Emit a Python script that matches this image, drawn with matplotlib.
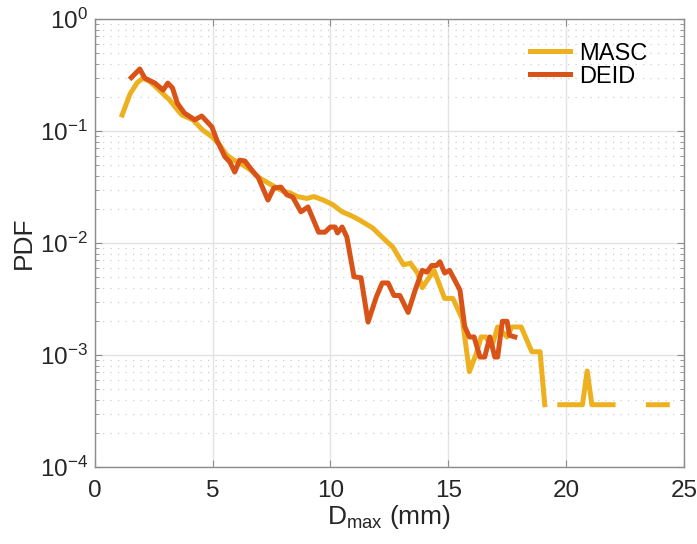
import numpy as np
import matplotlib
matplotlib.use("Agg")
import matplotlib.pyplot as plt
from matplotlib.ticker import LogLocator, NullFormatter

plt.rcParams['font.family'] = ['Liberation Sans', 'DejaVu Sans']
plt.rcParams['mathtext.fontset'] = 'custom'
plt.rcParams['mathtext.rm'] = 'Liberation Sans'
plt.rcParams['mathtext.it'] = 'Liberation Sans:italic'
plt.rcParams['mathtext.default'] = 'regular'

# MASC size distribution (nan = empty bin)
masc_x = [1.16, 1.5, 1.8, 2.04, 2.3, 2.6, 2.9, 3.18, 3.45, 3.7, 4.16, 4.58, 5.0, 5.3,
          5.6, 5.9, 6.28, 6.6, 7.0, 7.4, 7.73, 8.0, 8.28, 8.6, 9.0, 9.3, 9.7, 10.1,
          10.5, 10.9, 11.25, 11.8, 12.1, 12.65, 13.1, 13.4, 13.7, 13.9, 14.4, 14.85,
          15.2, 15.6, 15.9, 16.2, 16.4, 16.6, 16.85, 17.1, 17.5, 17.7, 18.1, 18.55,
          18.9, 19.1, 19.4, 19.74, 20.1, 20.5, 20.7, 20.9, 21.1, 21.5, 22.0, 22.7,
          23.5, 23.9, 24.3]
masc_y = [0.139, 0.215, 0.27, 0.297, 0.28, 0.247, 0.215, 0.189, 0.16, 0.139, 0.126, 0.102,
          0.088, 0.075, 0.061, 0.055, 0.050, 0.045, 0.038, 0.034, 0.031, 0.029, 0.028,
          0.026, 0.025, 0.026, 0.0242, 0.022, 0.019, 0.0175, 0.016, 0.0136, 0.0118,
          0.0092, 0.0064, 0.0066, 0.0054, 0.0040, 0.0057, 0.0032, 0.0032, 0.0021,
          0.00071, 0.00104, 0.00145, 0.00145, 0.00118, 0.00178, 0.00145, 0.00178,
          0.00178, 0.00107, 0.00107, 0.00036, np.nan, 0.00036, 0.00036, 0.00036,
          0.00036, 0.00072, 0.00036, 0.00036, 0.00036, np.nan, 0.00036, 0.00036, 0.00036]

# DEID size distribution
deid_x = [1.55, 1.91, 2.12, 2.55, 2.9, 3.1, 3.3, 3.5, 3.8, 4.24, 4.54, 4.97, 5.18, 5.52,
          5.73, 5.94, 6.15, 6.37, 6.66, 6.95, 7.35, 7.6, 7.9, 8.15, 8.4, 8.75, 9.05,
          9.5, 9.77, 10.0, 10.2, 10.3, 10.5, 10.7, 11.0, 11.3, 11.6, 11.95, 12.2, 12.45,
          12.7, 12.95, 13.3, 13.6, 13.9, 14.1, 14.3, 14.5, 14.65, 14.85, 15.06, 15.5,
          15.7, 15.9, 16.1, 16.35, 16.55, 16.77, 16.98, 17.1, 17.3, 17.5, 17.6, 17.83]
deid_y = [0.30, 0.358, 0.297, 0.268, 0.232, 0.268, 0.242, 0.178, 0.145, 0.126, 0.136,
          0.109, 0.083, 0.059, 0.053, 0.043, 0.055, 0.054, 0.045, 0.038, 0.0242, 0.031,
          0.0316, 0.027, 0.0257, 0.019, 0.021, 0.0125, 0.0125, 0.0139, 0.0139, 0.0123,
          0.0139, 0.0113, 0.0050, 0.0049, 0.00197, 0.0033, 0.0044, 0.0044, 0.0034,
          0.0034, 0.0024, 0.0038, 0.0057, 0.0055, 0.0063, 0.0063, 0.0068, 0.0054,
          0.0057, 0.0038, 0.0018, 0.00145, 0.00145, 0.00096, 0.00096, 0.00145, 0.00096,
          0.00096, 0.0020, 0.0020, 0.0015, 0.00145]

xticks = [0, 5, 10, 15, 20, 25]

fig = plt.figure(figsize=(6.97, 5.44), dpi=100)
ax = fig.add_axes([0.136, 0.1415, 0.845, 0.8235])

ax.plot(masc_x, masc_y, color='#EDB120', lw=3.6, label='MASC', zorder=3)
ax.plot(deid_x, deid_y, color='#D95319', lw=3.6, label='DEID', zorder=4)

ax.set_yscale('log')
ax.set_xlim(0, 25)
ax.set_ylim(1e-4, 1)
ax.set_xticks(xticks)
ax.yaxis.set_minor_locator(LogLocator(base=10, subs=np.arange(2, 10)))
ax.yaxis.set_minor_formatter(NullFormatter())

ax.grid(True, which='major', color='#e3e3e3', lw=1)
ax.grid(True, which='minor', axis='y', color='#cfcfcf', lw=0.9, ls=(0, (1, 5)))
ax.set_axisbelow(True)

for s in ax.spines.values():
    s.set_color('#8c8c8c')
    s.set_linewidth(1)
ax.tick_params(which='both', direction='in', top=True, right=True, colors='#8c8c8c',
               labelcolor='#262626', labelsize=17.5)
ax.tick_params(which='major', length=5, pad=5)
ax.tick_params(axis='x', which='major', pad=9)
ax.tick_params(which='minor', length=3)

ax.set_xlabel(r'D$_{max}$ (mm)', fontsize=19, color='#262626', labelpad=1)
ax.set_ylabel('PDF', fontsize=19, color='#262626', labelpad=3)

ax.legend(loc='upper right', frameon=False, fontsize=17, handlelength=1.7,
          handletextpad=0.4, labelspacing=0.05, bbox_to_anchor=(0.975, 0.995))

fig.savefig('out.png', dpi=100)
